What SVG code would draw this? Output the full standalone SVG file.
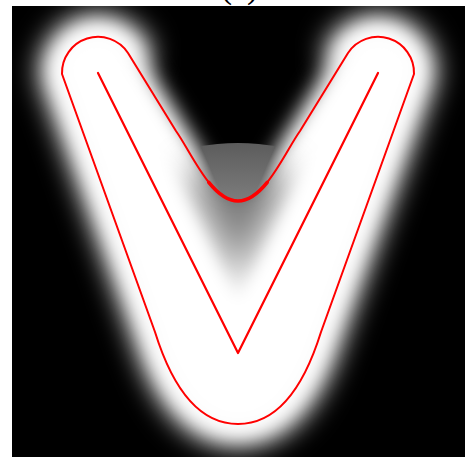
<svg xmlns="http://www.w3.org/2000/svg" width="465" height="457" viewBox="0 0 465 457">
  <defs>
    <style>
      .red { fill: none; stroke: #ff0000; stroke-linejoin: round; stroke-linecap: round; }
      .label { font-family: "Liberation Serif", "Times New Roman", serif; font-size: 34px; fill: #000; }
    </style>
    <filter id="blurO" filterUnits="userSpaceOnUse" x="-50" y="-50" width="565" height="560">
      <feGaussianBlur stdDeviation="14"/>
    </filter>
    <filter id="blurI" filterUnits="userSpaceOnUse" x="-50" y="-50" width="565" height="560">
      <feGaussianBlur stdDeviation="10"/>
    </filter>
    <filter id="blurD" filterUnits="userSpaceOnUse" x="-50" y="-50" width="565" height="560">
      <feGaussianBlur stdDeviation="18"/>
    </filter>
    <filter id="blurA" filterUnits="userSpaceOnUse" x="-50" y="-50" width="565" height="560">
      <feGaussianBlur stdDeviation="8"/>
    </filter>
    <clipPath id="circ">
      <circle cx="238" cy="353" r="210"/>
    </clipPath>
    <clipPath id="panel">
      <rect x="12" y="6" width="453" height="451"/>
    </clipPath>
    <linearGradient id="gM" gradientUnits="userSpaceOnUse" x1="0" y1="143" x2="0" y2="345">
      <stop offset="0" stop-color="#5c5c5c"/>
      <stop offset="0.3" stop-color="#7e7e7e"/>
      <stop offset="0.6" stop-color="#999999"/>
      <stop offset="1" stop-color="#b3b3b3"/>
    </linearGradient>
    <linearGradient id="gD" gradientUnits="userSpaceOnUse" x1="0" y1="170" x2="0" y2="290">
      <stop offset="0" stop-color="#000" stop-opacity="0.55"/>
      <stop offset="0.42" stop-color="#000" stop-opacity="0.5"/>
      <stop offset="0.67" stop-color="#000" stop-opacity="0.43"/>
      <stop offset="1" stop-color="#000" stop-opacity="0.35"/>
    </linearGradient>
  </defs>

  <g id="label">
    <text class="label" x="239.5" y="-2.5" text-anchor="middle">(a)</text>
  </g>

  <g id="field" clip-path="url(#panel)">
    <rect x="12" y="6" width="453" height="451" fill="#000"/>
    <path id="glow-outer" fill="none" stroke="#fff" stroke-width="44" stroke-linejoin="round" stroke-linecap="round" filter="url(#blurO)"
      d="M128,53 A36,36 0 0 0 62,74 L155,332 C170,380 195,424 238,424 C281,424 306,380 321,332 L414,74 A36,36 0 0 0 348,53"/>
    <path id="glow-inner" fill="#fff" stroke="#fff" stroke-width="20" stroke-linejoin="round" filter="url(#blurI)"
      d="M128,53 A36,36 0 0 0 62,74 L155,332 C170,380 195,424 238,424 C281,424 306,380 321,332 L414,74 A36,36 0 0 0 348,53 L300,131 C285,152 265,201 238,201 C211,201 191,152 176,131 Z"/>
    <polygon id="glow-dark" points="185,170 291,170 238,290" fill="url(#gD)" filter="url(#blurD)"/>
    <polyline id="glow-arms" points="98,73 238,353 378,73" fill="none" stroke="#fff" stroke-width="40" stroke-linecap="round" stroke-linejoin="round" filter="url(#blurA)" style="mix-blend-mode:lighten"/>
    <polygon id="glow-middle" points="98,73 238,353 378,73" fill="url(#gM)" clip-path="url(#circ)" style="mix-blend-mode:lighten"/>
  </g>

  <g id="contour">
    <path class="red" stroke-width="2"
      d="M128,53 A36,36 0 0 0 62,74 L155,332 C170,380 195,424 238,424 C281,424 306,380 321,332 L414,74 A36,36 0 0 0 348,53 L300,131 C285,152 265,201 238,201 C211,201 191,152 176,131 Z"/>
    <path class="red" stroke-width="3.6" d="M267.2,182.4 C258.5,193.2 248.8,201 238,201 C227.2,201 217.5,193.2 208.8,182.4"/>
  </g>

  <g id="skeleton">
    <polyline class="red" stroke-width="2.2" points="98,73 238,353 378,73"/>
  </g>
</svg>
